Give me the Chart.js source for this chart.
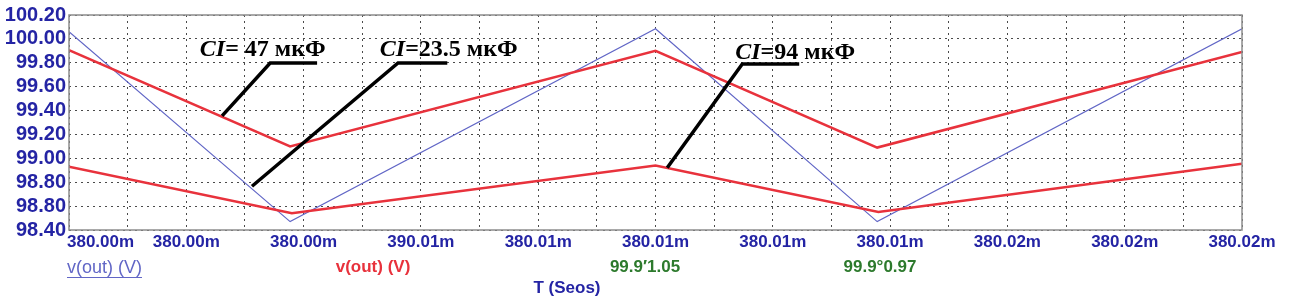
<!DOCTYPE html>
<html>
<head>
<meta charset="utf-8">
<script src="https://cdn.jsdelivr.net/npm/chart.js@4.4.1/dist/chart.umd.min.js"></script>
<style>
  html, body { margin: 0; padding: 0; background: #fff; }
  #wrap { width: 1293px; height: 299px; position: relative; }
</style>
</head>
<body>
<div id="wrap"><canvas id="c"></canvas></div>
<script>
// Шкалы (подписи как на исходном скриншоте, включая повторы)
const X_TICKS = [0, 2, 4, 6, 8, 10, 12, 14, 16, 18, 20];
const X_LABELS = ['380.00m', '380.00m', '380.00m', '390.01m', '380.01m', '380.01m',
                  '380.01m', '380.01m', '380.02m', '380.02m', '380.02m'];
const Y_LABELS = ['98.40', '98.80', '98.80', '99.00', '99.20', '99.40',
                  '99.60', '99.80', '100.00', '100.20'];

// Серии: время (в делениях сетки) и напряжение
const T_235 = [0, 3.77, 10, 13.78, 20];
const V_235 = [100.06, 98.47, 100.085, 98.47, 100.085];
const T_47 = [0, 3.77, 10, 13.78, 20];
const V_47 = [99.905, 99.10, 99.90, 99.09, 99.89];
const T_94 = [0, 3.8, 10, 13.8, 20];
const V_94 = [98.93, 98.54, 98.94, 98.55, 98.955];

const COLOR_BLUE = '#6166c6';
const COLOR_RED = '#e8323c';
const COLOR_AXIS_TEXT = '#2424a4';
const COLOR_GREEN = '#2d7a2d';

const pts = (t, v) => t.map((x, i) => ({ x, y: v[i] }));

// Выноски: текст + ломаная линия, координаты в единицах осей
const ANNOTATIONS = [
    { parts: [['CI', true], ['= ', false], ['47 ', false], ['мкФ', false]],
      text: [2.23, 99.856], elbow: [3.43, 99.798], end: 4.23, tip: [2.61, 99.356] },
    { parts: [['CI', true], ['=', false], ['23.5 ', false], ['мкФ', false]],
      text: [5.30, 99.856], elbow: [5.61, 99.798], end: 6.45, tip: [3.12, 98.766] },
    { parts: [['CI', true], ['=', false], ['94 ', false], ['мкФ', false]],
      text: [11.36, 99.831], elbow: [11.48, 99.79], end: 12.45, tip: [10.20, 98.921] }
];

const overlay = {
    id: 'overlay',
    afterDraw(chart) {
        const { ctx, chartArea: a, scales: { x, y } } = chart;
        ctx.save();

        // рамка
        ctx.strokeStyle = '#8c8c8c';
        ctx.lineWidth = 1.5;
        ctx.strokeRect(a.left, a.top, a.right - a.left, a.bottom - a.top);

        // подписи оси X
        ctx.font = 'bold 17px "Liberation Sans", Arial, sans-serif';
        ctx.fillStyle = COLOR_AXIS_TEXT;
        ctx.textBaseline = 'top';
        X_TICKS.forEach((v, i) => {
            const px = x.getPixelForValue(v);
            ctx.textAlign = i === 0 ? 'left' : 'center';
            ctx.fillText(X_LABELS[i], i === 0 ? px - 2 : px, a.bottom + 4);
        });

        // строка легенды
        ctx.textAlign = 'left';
        ctx.font = '18px "Liberation Sans", Arial, sans-serif';
        ctx.fillStyle = COLOR_BLUE;
        ctx.fillText('v(out) (V)', 67, 259);
        const w = ctx.measureText('v(out) (V)').width;
        ctx.strokeStyle = COLOR_BLUE;
        ctx.lineWidth = 1;
        ctx.beginPath(); ctx.moveTo(67, 277.5); ctx.lineTo(67 + w, 277.5); ctx.stroke();

        ctx.textAlign = 'center';
        ctx.font = 'bold 17px "Liberation Sans", Arial, sans-serif';
        ctx.fillStyle = COLOR_RED;
        ctx.fillText('v(out) (V)', 373, 259);
        ctx.fillStyle = COLOR_GREEN;
        ctx.fillText('99.9\u20321.05', 645, 259);
        ctx.fillText('99.9\u00b00.97', 880, 259);
        ctx.fillStyle = COLOR_AXIS_TEXT;
        ctx.fillText('T (Seos)', 567, 280);

        // выноски
        ctx.fillStyle = '#000';
        ctx.strokeStyle = '#000';
        ctx.textAlign = 'left';
        ctx.textBaseline = 'alphabetic';
        ANNOTATIONS.forEach(an => {
            let px = x.getPixelForValue(an.text[0]);
            const py = y.getPixelForValue(an.text[1]);
            an.parts.forEach(([t, it]) => {
                ctx.font = (it ? 'italic ' : '') + 'bold 24px "Liberation Serif", "Times New Roman", serif';
                ctx.fillText(t, px, py);
                px += ctx.measureText(t).width;
            });
            const ex = x.getPixelForValue(an.elbow[0]);
            const ey = y.getPixelForValue(an.elbow[1]);
            ctx.lineWidth = 3.5;
            ctx.lineCap = 'butt';
            ctx.beginPath();
            ctx.moveTo(x.getPixelForValue(an.tip[0]), y.getPixelForValue(an.tip[1]));
            ctx.lineTo(ex, ey);
            ctx.lineTo(x.getPixelForValue(an.end), ey);
            ctx.stroke();
        });

        ctx.restore();
    }
};

new Chart(document.getElementById('c'), {
    type: 'line',
    data: {
        datasets: [
            { data: pts(T_47, V_47), borderColor: COLOR_RED, borderWidth: 2.5 },
            { data: pts(T_94, V_94), borderColor: COLOR_RED, borderWidth: 2.5 },
            { data: pts(T_235, V_235), borderColor: COLOR_BLUE, borderWidth: 1.2 }
        ]
    },
    options: {
        responsive: true,
        maintainAspectRatio: false,
        animation: false,
        events: [],
        elements: { point: { radius: 0 }, line: { tension: 0, fill: false } },
        layout: { padding: { left: 0, top: 10, right: 51, bottom: 0 } },
        plugins: { legend: { display: false }, tooltip: { enabled: false } },
        scales: {
            x: {
                type: 'linear',
                min: 0,
                max: 20,
                afterFit: (s) => { s.height = 69; },
                afterBuildTicks: (s) => { s.ticks = Array.from({ length: 21 }, (_, i) => ({ value: i })); },
                ticks: { display: false },
                grid: { color: '#4a4a4a', lineWidth: 1, drawTicks: false },
                border: { display: false, dash: [2, 4] }
            },
            y: {
                min: 98.4,
                max: 100.2,
                afterFit: (s) => { s.width = 69; },
                afterBuildTicks: (s) => { s.ticks = Y_LABELS.map((_, i) => ({ value: 98.4 + i * 0.2 })); },
                ticks: {
                    color: COLOR_AXIS_TEXT,
                    padding: 3,
                    autoSkip: false,
                    font: { family: '"Liberation Sans", Arial, sans-serif', size: 20, weight: 'bold' },
                    callback: (v, i) => Y_LABELS[i]
                },
                grid: { color: '#4a4a4a', lineWidth: 1, drawTicks: false },
                border: { display: false, dash: [2, 4] }
            }
        }
    },
    plugins: [overlay]
});
</script>
</body>
</html>
